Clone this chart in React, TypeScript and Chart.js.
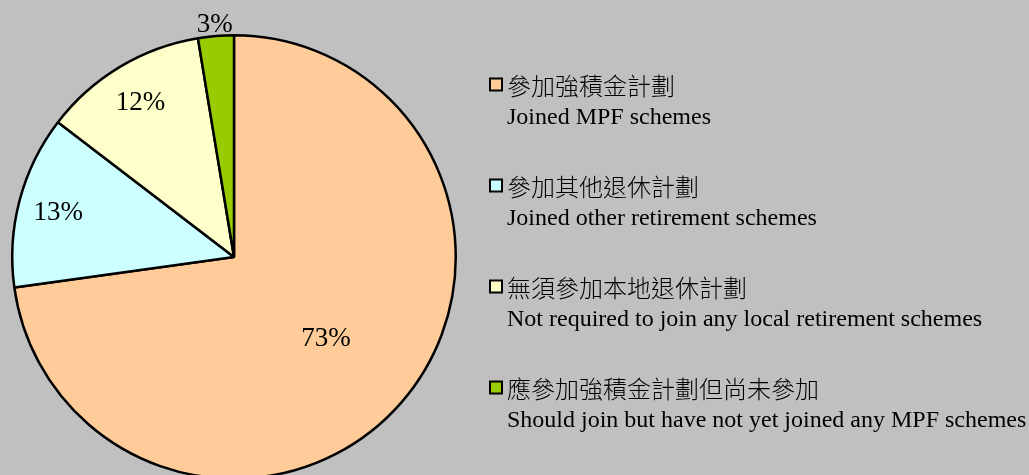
import React, { useEffect, useRef } from 'react';
import { Chart, registerables } from 'chart.js';

Chart.register(...registerables);

// ---- data ----
const CATEGORIES_ZH = [
  '參加強積金計劃',
  '參加其他退休計劃',
  '無須參加本地退休計劃',
  '應參加強積金計劃但尚未參加',
];
const CATEGORIES_EN = [
  'Joined MPF schemes',
  'Joined other retirement schemes',
  'Not required to join any local retirement schemes',
  'Should join but have not yet joined any MPF schemes',
];
const SHARE_VALUES = [72.8, 12.6, 12.0, 2.6];

// ---- styles ----
const SLICE_COLORS = ['#FFCC99', '#CCFFFF', '#FFFFCC', '#99CC00'];
const LABEL_RADIUS = [0.55, 0.82, 0.82, 1.06];
const BG = '#C0C0C0';
const PCT_FONT_SIZE = 27;
const PCT_FONT = `${PCT_FONT_SIZE}px 'Liberation Serif', 'Times New Roman', serif`;
const LEG_ZH_FONT = `300 24px 'Noto Sans CJK TC', 'Noto Sans CJK SC', sans-serif`;
const LEG_EN_FONT = `24px 'Liberation Serif', 'Times New Roman', serif`;
const LEG_BOX_X = 490;
const LEG_TEXT_X = 507;
const LEG_FIRST_CENTER = 85.5;
const LEG_STEP = 101;
const LEG_EN_OFFSET = 38;

const W = 1029;
const H = 514;

const labelPlugin = {
  id: 'sliceLabels',
  afterDatasetsDraw(chart: any) {
    const ctx = chart.ctx as CanvasRenderingContext2D;
    const meta = chart.getDatasetMeta(0);
    const data = chart.data.datasets[0].data as number[];
    const total = data.reduce((a: number, b: number) => a + b, 0);
    ctx.save();
    ctx.font = PCT_FONT;
    ctx.fillStyle = '#000';
    ctx.textAlign = 'center';
    ctx.textBaseline = 'alphabetic';
    meta.data.forEach((arc: any, i: number) => {
      const p = arc.getProps(['x', 'y', 'startAngle', 'endAngle', 'outerRadius'], true);
      const mid = (p.startAngle + p.endAngle) / 2;
      const r = p.outerRadius * LABEL_RADIUS[i];
      const x = p.x + Math.cos(mid) * r;
      const y = p.y + Math.sin(mid) * r;
      ctx.fillText(Math.round((data[i] / total) * 100) + '%', x, y + PCT_FONT_SIZE * 0.34);
    });
    ctx.restore();
  },
};

const legendPlugin = {
  id: 'twoLineLegend',
  afterDraw(chart: any) {
    const ctx = chart.ctx as CanvasRenderingContext2D;
    const colors = chart.data.datasets[0].backgroundColor as string[];
    ctx.save();
    CATEGORIES_ZH.forEach((zh, i) => {
      const cy = LEG_FIRST_CENTER + LEG_STEP * i;
      ctx.fillStyle = colors[i];
      ctx.fillRect(LEG_BOX_X, cy - 7, 12, 12);
      ctx.strokeStyle = '#000';
      ctx.lineWidth = 2;
      ctx.strokeRect(LEG_BOX_X, cy - 7, 12, 12);
      ctx.fillStyle = '#000';
      ctx.textAlign = 'left';
      ctx.textBaseline = 'alphabetic';
      ctx.font = LEG_ZH_FONT;
      ctx.fillText(zh, LEG_TEXT_X, cy + 9);
      ctx.font = LEG_EN_FONT;
      ctx.fillText(CATEGORIES_EN[i], LEG_TEXT_X, cy + LEG_EN_OFFSET);
    });
    ctx.restore();
  },
};

export default function App() {
  const ref = useRef<HTMLCanvasElement | null>(null);
  useEffect(() => {
    if (!ref.current) return;
    const chart = new Chart(ref.current, {
      type: 'pie',
      data: {
        labels: CATEGORIES_EN,
        datasets: [
          {
            data: SHARE_VALUES,
            backgroundColor: SLICE_COLORS,
            borderColor: '#000',
            borderWidth: 2.5,
          },
        ],
      },
      options: {
        animation: false,
        responsive: false,
        events: [],
        layout: { padding: { left: 11, top: 34, right: W - 457, bottom: H - 480 } },
        plugins: {
          legend: { display: false },
          tooltip: { enabled: false },
        },
      },
      plugins: [labelPlugin, legendPlugin],
    });
    return () => chart.destroy();
  }, []);
  return (
    <div
      style={{
        position: 'fixed',
        left: 0,
        top: 0,
        width: 1029,
        height: 475,
        overflow: 'hidden',
        background: BG,
      }}
    >
      <canvas ref={ref} width={W} height={H} style={{ display: 'block', width: W, height: H }} />
    </div>
  );
}
